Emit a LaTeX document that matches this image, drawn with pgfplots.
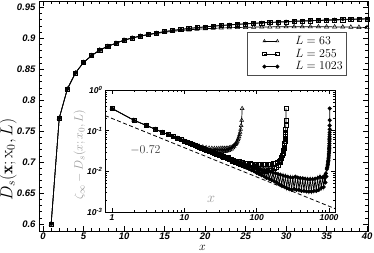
\documentclass[border=0pt]{standalone}
\usepackage{pgfplots}
\pgfplotsset{compat=1.18}
\usepackage{fontspec}
\setsansfont{Liberation Sans}
\pgfplotstableread{
x a b c
1 0.600 0.600 0.600
2 0.771 0.771 0.771
3 0.818 0.818 0.818
4 0.844 0.844 0.844
5 0.861 0.861 0.861
6 0.872 0.872 0.872
7 0.881 0.881 0.881
8 0.887 0.887 0.887
9 0.892 0.892 0.892
10 0.897 0.897 0.897
11 0.9004 0.9004 0.9004
12 0.9034 0.9036 0.9036
13 0.9058 0.9062 0.9062
14 0.9078 0.9085 0.9085
15 0.9096 0.9108 0.9108
16 0.9112 0.9126 0.9126
17 0.9125 0.9143 0.9143
18 0.9136 0.9158 0.9158
19 0.9146 0.9172 0.9172
20 0.9154 0.9184 0.9184
21 0.9161 0.9194 0.9196
22 0.9166 0.9205 0.9207
23 0.9170 0.9215 0.9217
24 0.9174 0.9224 0.9226
25 0.9177 0.9232 0.9234
26 0.9180 0.9240 0.9242
27 0.9182 0.9248 0.9250
28 0.9184 0.9255 0.9257
29 0.9185 0.9259 0.9263
30 0.9186 0.9265 0.9269
31 0.9186 0.9271 0.9275
32 0.9186 0.9277 0.9281
33 0.9186 0.9282 0.9286
34 0.9186 0.9287 0.9291
35 0.9185 0.9290 0.9296
36 0.9184 0.9294 0.9300
37 0.9182 0.9299 0.9305
38 0.9180 0.9303 0.9309
39 0.9177 0.9307 0.9313
40 0.9174 0.9310 0.9316
}\maindata
\pgfplotstableread{
x y
1 0.352
2 0.181
3 0.134
4 0.108
5 0.091
6 0.080
7 0.071
8 0.065
9 0.060
10 0.055
11 0.0516
12 0.0486
13 0.0462
14 0.0451
15 0.0414
16 0.0420
17 0.0383
18 0.0399
19 0.0359
20 0.0384
21 0.0340
22 0.0375
23 0.0326
24 0.0370
25 0.0316
26 0.0367
27 0.0308
28 0.0366
29 0.0302
30 0.0367
31 0.0298
32 0.0371
33 0.0297
34 0.0371
35 0.0302
36 0.0370
37 0.0308
38 0.0371
39 0.0316
40 0.0374
41 0.0326
42 0.0379
43 0.0338
44 0.0388
45 0.0355
46 0.0403
47 0.0379
48 0.0424
49 0.0411
50 0.0455
51 0.0462
52 0.0486
53 0.0516
54 0.055
55 0.060
56 0.065
57 0.071
58 0.080
59 0.091
60 0.108
61 0.134
62 0.181
63 0.352
}\insetA
\pgfplotstableread{
x y
1 0.352
2 0.181
3 0.134
4 0.108
5 0.091
6 0.080
7 0.071
8 0.065
9 0.060
10 0.055
11 0.0516
12 0.0484
13 0.0458
14 0.0435
15 0.0412
16 0.0394
17 0.0377
18 0.0362
19 0.0348
20 0.0336
21 0.0326
22 0.0315
23 0.0305
24 0.0296
25 0.0288
26 0.0280
27 0.0272
28 0.0266
29 0.0260
30 0.0255
31 0.0249
32 0.0243
33 0.0238
34 0.0233
35 0.0228
36 0.0224
37 0.0220
38 0.0216
39 0.0212
40 0.0216
42 0.0196
44 0.0203
46 0.0182
48 0.0192
50 0.0170
52 0.0182
55 0.0160
57 0.0175
60 0.0150
63 0.0165
66 0.0141
69 0.0159
72 0.0134
75 0.0154
78 0.0128
81 0.0154
85 0.0119
88 0.0152
92 0.0114
96 0.0150
100 0.0108
104 0.0149
108 0.0105
112 0.0149
117 0.0103
122 0.0148
127 0.0103
132 0.0148
137 0.0103
143 0.0149
149 0.0104
155 0.0152
161 0.0108
168 0.0155
175 0.0116
182 0.0160
189 0.0128
195 0.0170
200 0.0143
205 0.0180
210 0.0165
213 0.0190
216 0.0210
221 0.0228
226 0.0255
230 0.0280
233 0.0305
236 0.0336
238 0.0362
240 0.0394
242 0.0435
244 0.0484
246 0.055
247 0.060
248 0.065
249 0.071
250 0.080
251 0.091
252 0.108
253 0.134
254 0.181
255 0.352
}\insetB
\pgfplotstableread{
x y
1 0.352
2 0.181
3 0.134
4 0.108
5 0.091
6 0.080
7 0.071
8 0.065
9 0.060
10 0.055
11 0.0516
12 0.0484
13 0.0458
14 0.0435
15 0.0412
16 0.0394
17 0.0377
18 0.0362
19 0.0348
20 0.0336
21 0.0324
22 0.0313
23 0.0303
24 0.0294
25 0.0286
26 0.0278
27 0.0270
28 0.0263
29 0.0257
30 0.0251
31 0.0245
32 0.0239
33 0.0234
34 0.0229
35 0.0224
36 0.0220
37 0.0215
38 0.0211
39 0.0207
40 0.0212
42 0.0189
44 0.0200
46 0.0175
48 0.0189
50 0.0163
52 0.0178
55 0.0152
57 0.0169
60 0.0142
63 0.0159
66 0.0131
69 0.0150
72 0.0123
75 0.0143
78 0.0115
81 0.0135
85 0.0107
88 0.0130
92 0.0100
96 0.0123
100 0.0092
104 0.0117
108 0.0086
112 0.0113
117 0.0080
122 0.0107
127 0.0075
132 0.0104
137 0.0069
143 0.0100
149 0.0065
155 0.0097
161 0.0061
168 0.0093
175 0.0057
182 0.0090
189 0.0053
197 0.0086
205 0.0048
213 0.0082
222 0.0045
231 0.0079
240 0.0042
250 0.0076
260 0.0039
270 0.0073
281 0.0037
292 0.0071
304 0.0035
316 0.0070
329 0.0037
342 0.0074
356 0.0035
370 0.0070
385 0.0035
400 0.0068
416 0.0033
433 0.0067
450 0.0033
468 0.0066
487 0.0032
506 0.0064
527 0.0032
548 0.0064
570 0.0032
593 0.0064
617 0.0033
641 0.0066
667 0.0033
694 0.0068
722 0.0035
751 0.0073
781 0.0039
812 0.0070
844 0.0041
870 0.0078
890 0.0053
905 0.0089
920 0.0075
934 0.0114
944 0.0124
954 0.0136
961 0.0147
968 0.0160
974 0.0173
979 0.0187
984 0.0204
989 0.0224
994 0.0251
998 0.0278
1001 0.0303
1004 0.0336
1006 0.0362
1008 0.0394
1010 0.0435
1012 0.0484
1014 0.055
1015 0.060
1016 0.065
1017 0.071
1018 0.080
1019 0.091
1020 0.108
1021 0.134
1022 0.181
1023 0.352
}\insetC
\begin{document}
\begin{tikzpicture}
\useasboundingbox (-39pt,-21pt) rectangle (335pt,231pt);
\pgfplotsset{
  s63/.style={black, line width=0.7pt, mark=triangle, mark size=2.4pt, mark options={solid, fill=white, line width=0.5pt}},
  s255/.style={black, line width=0.7pt, mark=square, mark size=2.1pt, mark options={solid, fill=white, line width=0.5pt}},
  s1023/.style={black, line width=0.7pt, mark=*, mark size=1.6pt, mark options={solid, fill=black}},
}
\begin{axis}[
  at={(0pt,0pt)}, anchor=south west,
  scale only axis, width=329pt, height=230pt,
  xmin=-0.5, xmax=40.12, ymin=0.5886, ymax=0.9602,
  xtick={0,5,...,40},
  ytick={0.6,0.65,0.7,0.75,0.8,0.85,0.9,0.95},
  yticklabels={0.6,0.65,0.7,0.75,0.8,0.85,0.9,0.95},
  minor x tick num=4, minor y tick num=4,
  tick align=inside,
  xtick pos=both, ytick pos=both,
  major tick length=5pt, minor tick length=3pt,
  axis line style={line width=0.6pt},
  tick style={line width=0.5pt, black},
  /pgf/number format/assume math mode=true,
  tick label style={font=\sffamily\bfseries\itshape\fontsize{9.5}{10}\selectfont},
  xticklabel style={yshift=1.5pt},
  xlabel={$x$},
  xlabel style={font=\fontsize{12}{12}\selectfont, at={(axis description cs:0.497,-0.074)}, anchor=center, inner sep=0pt},
  ylabel={$D_s(\mathbf{x};\mathrm{x}_0,L)$},
  ylabel style={font=\fontsize{17}{17}\selectfont, at={(axis description cs:-0.094,0.31)}, anchor=center},
  legend cell align=left,
  legend style={at={(axis description cs:0.936,0.865)}, anchor=north east,
    draw=black!70, line width=0.5pt, font=\fontsize{12.5}{13}\selectfont,
    row sep=-1pt, inner ysep=2pt, inner xsep=2pt},
  legend image code/.code={
    \path[draw=none] (0pt,-3pt) rectangle (44pt,3pt);
    \draw[#1, line width=0.6pt, mark size=1.7pt, mark repeat=2, mark phase=1] plot coordinates {(15pt,0pt) (21.5pt,0pt) (28pt,0pt)};},
]
\addplot[s63] table[x=x,y=a] {\maindata};
\addlegendentry{$L=63$}
\addplot[s255] table[x=x,y=b] {\maindata};
\addlegendentry{$L=255$}
\addplot[s1023] table[x=x,y=c] {\maindata};
\addlegendentry{$L=1023$}
\end{axis}
\begin{axis}[
  at={(66pt,19pt)}, anchor=south west,
  scale only axis, width=230pt, height=122pt,
  xmode=log, ymode=log,
  xmin=0.8, xmax=1210, ymin=1e-3, ymax=1,
  axis background/.style={fill=white},
  xtick={1,10,100,1000}, xticklabels={1,10,100,1000},
  ytick={1e-3,1e-2,1e-1,1},
  yticklabels={{10\textsuperscript{-3}},{10\textsuperscript{-2}},{10\textsuperscript{-1}},{10\textsuperscript{0}}},
  tick align=inside, xtick pos=both, ytick pos=both,
  major tick length=4pt, minor tick length=2.2pt,
  axis line style={line width=0.6pt},
  tick style={line width=0.5pt, black},
  tick label style={font=\sffamily\bfseries\itshape\fontsize{8.5}{9}\selectfont},
  xticklabel style={yshift=1pt},
  yticklabel style={xshift=1pt},
  xlabel={$x$},
  xlabel style={font=\fontsize{14}{14}\selectfont, text=black!40, at={(axis description cs:0.461,0.10)}, anchor=center},
  ylabel={$\zeta_\infty - D_s(x;x_0,L)$},
  ylabel style={font=\fontsize{13}{13}\selectfont, text=black!40, at={(axis description cs:-0.11,0.47)}, anchor=center},
]
\addplot[black, line width=0.8pt, dash pattern=on 4pt off 2.5pt] coordinates {(0.8,0.2348) (1210,0.00121)};
\addplot[s63, mark size=2.2pt] table[x=x,y=y] {\insetA};
\addplot[s255, mark size=2pt] table[x=x,y=y] {\insetB};
\addplot[s1023, mark size=1.7pt] table[x=x,y=y] {\insetC};
\node[font=\fontsize{13}{13}\selectfont, text=black!75] at (axis cs:2.9,0.034) {$-0.72$};
\end{axis}
\end{tikzpicture}
\end{document}
